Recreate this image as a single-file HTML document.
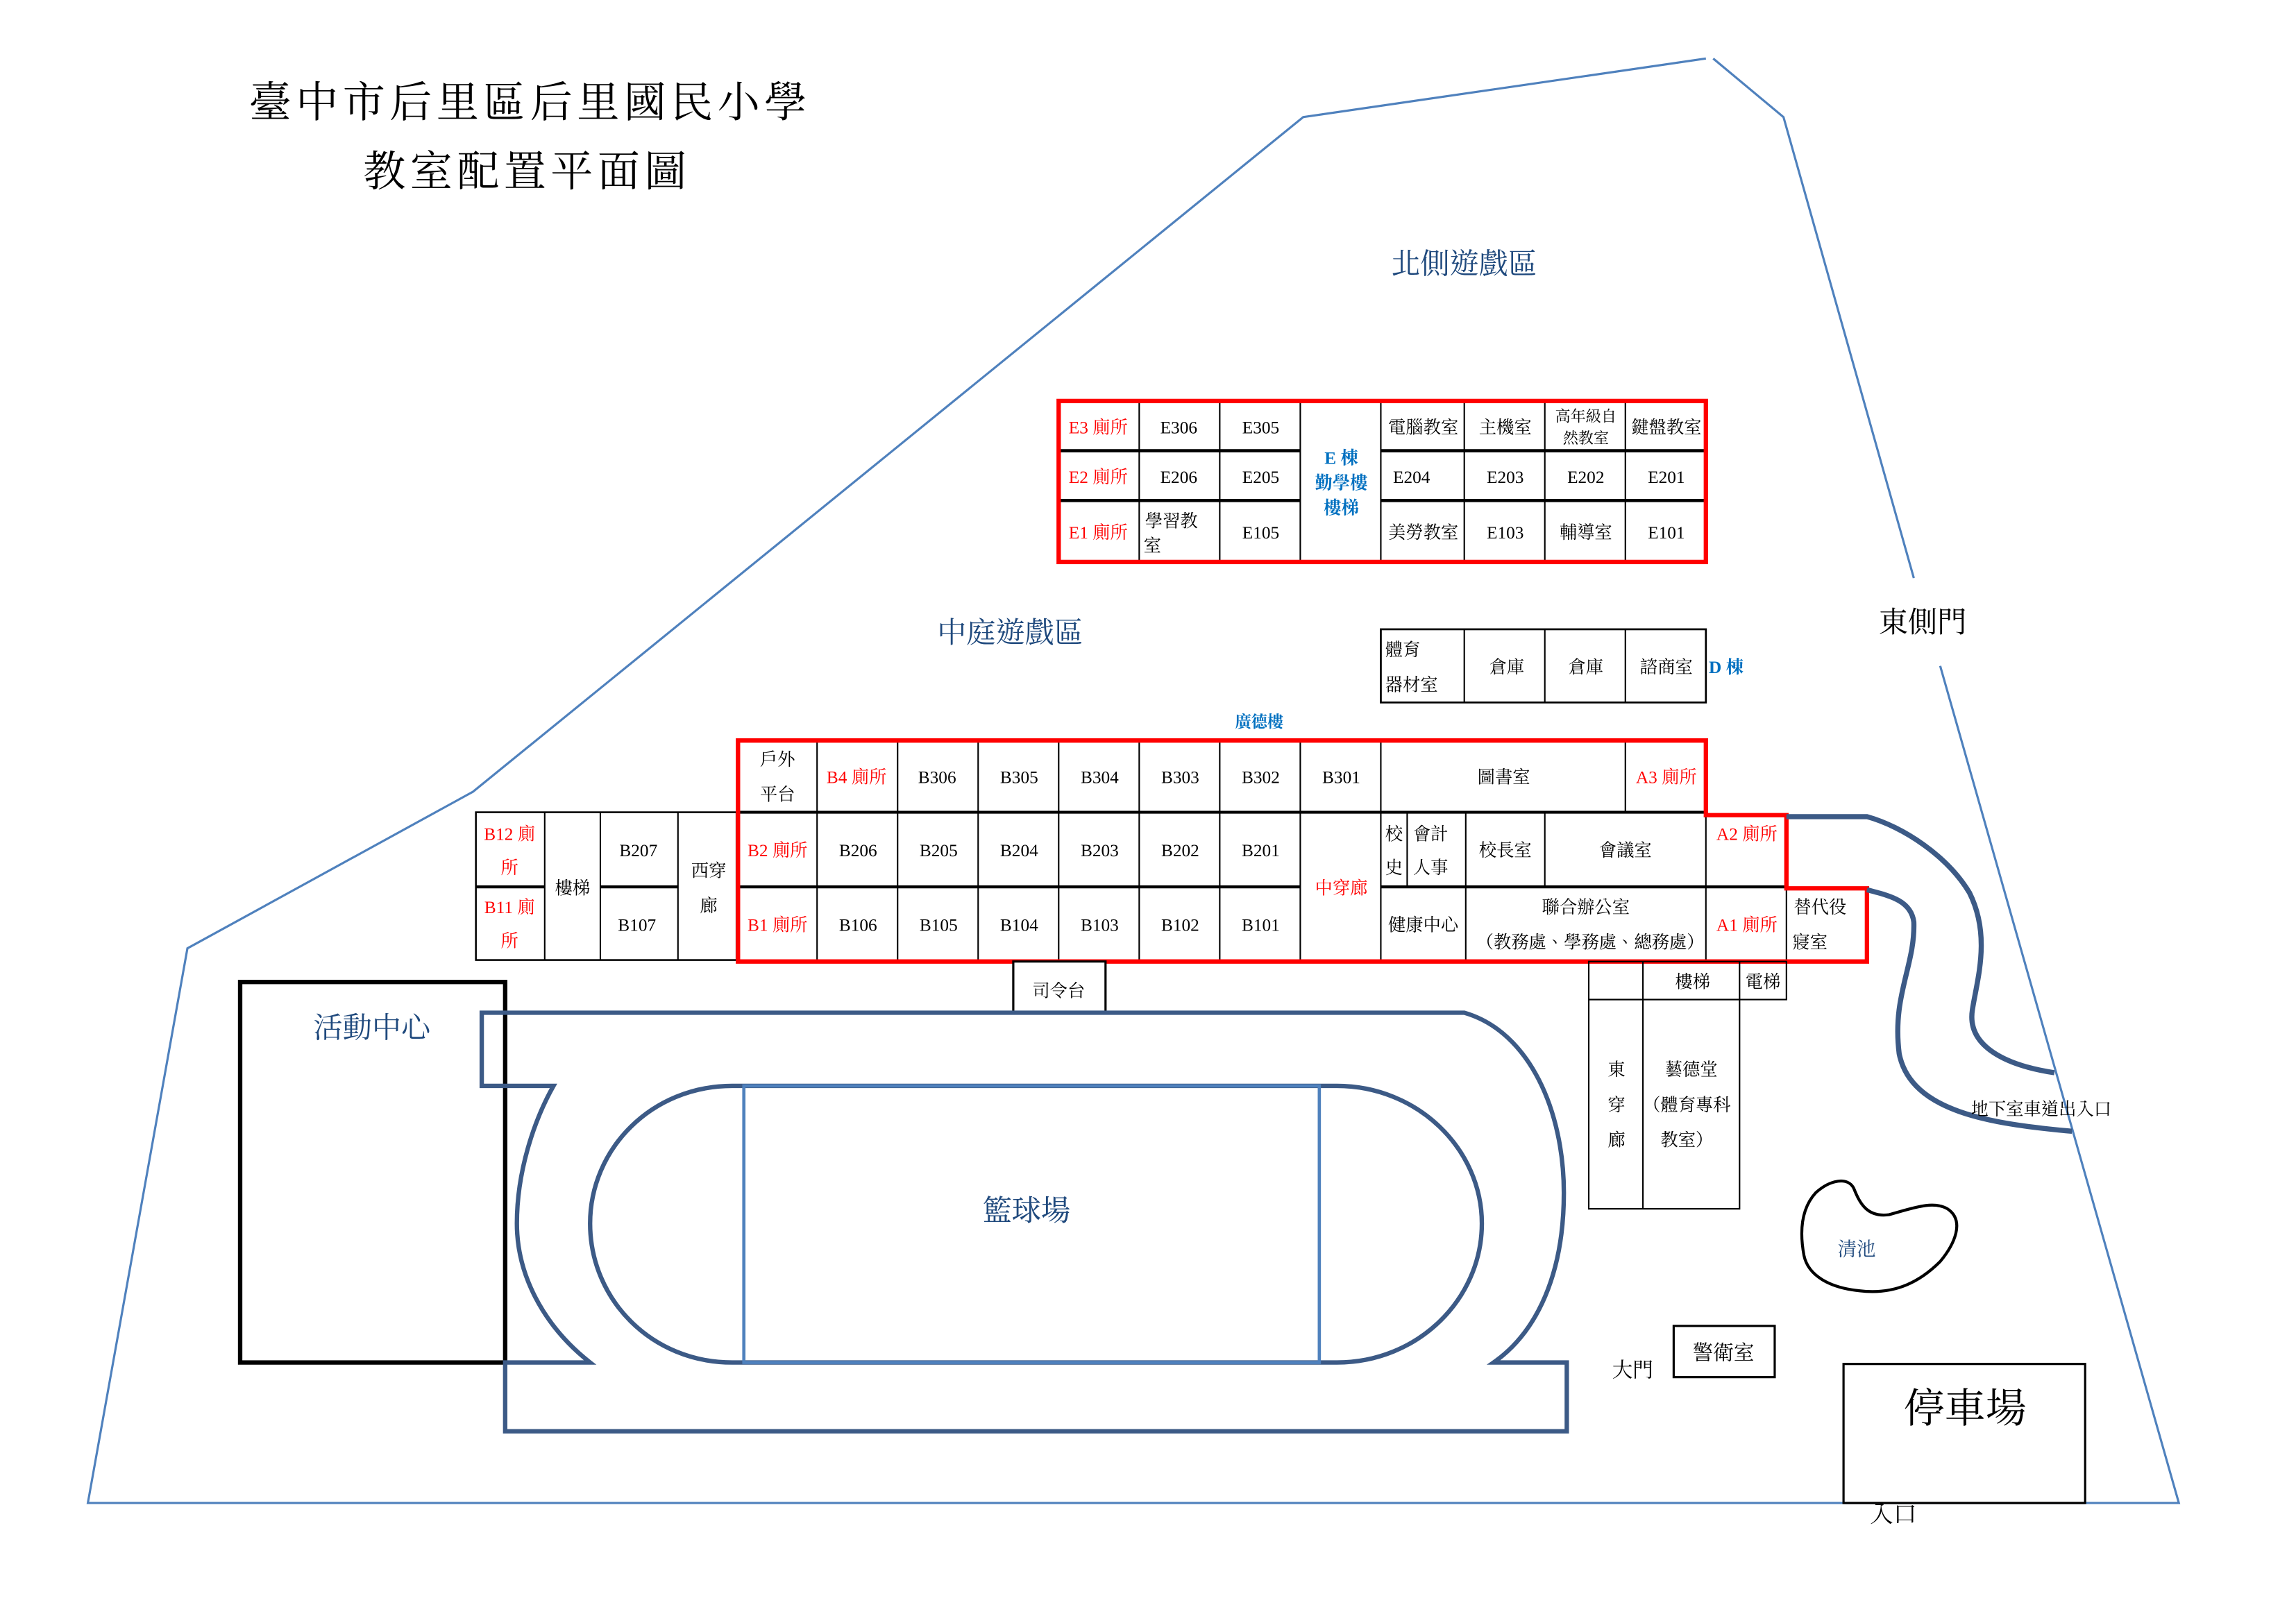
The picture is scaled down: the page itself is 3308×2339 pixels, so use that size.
<!DOCTYPE html>
<html><head><meta charset="utf-8"><style>
html,body{margin:0;padding:0;background:#fff;}
svg{display:block;}
text{font-family:"Liberation Serif","Noto Serif CJK TC","Noto Serif CJK SC",serif;}
</style></head><body>
<svg width="3308" height="2339" viewBox="0 0 1568 1109" preserveAspectRatio="none" xmlns="http://www.w3.org/2000/svg">
<rect width="1568" height="1109" fill="#fff"/>
<!-- boundary -->
<g fill="none" stroke="#4f81bd" stroke-width="1.5">
<polyline points="1165,40 890,80 323,541 128,648 60,1027 1488,1027 1325,455"/>
<polyline points="1170,40 1218,80 1307,395"/>
</g>
<!-- title -->
<g font-size="29" text-anchor="middle" fill="#000" letter-spacing="3">
<text x="362" y="80">臺中市后里區后里國民小學</text>
<text x="360" y="127">教室配置平面圖</text>
</g>
<g font-size="20" fill="#1f497d" text-anchor="middle">
<text x="1000" y="187">北側遊戲區</text>
<text x="690" y="439">中庭遊戲區</text>
<text x="701" y="834">籃球場</text>
</g>
<text x="1313" y="432" font-size="20" text-anchor="middle">東側門</text>

<!-- E block -->
<g stroke="#000" stroke-width="1" fill="none">
<line x1="778" y1="273" x2="778" y2="385"/><line x1="833" y1="273" x2="833" y2="385"/>
<line x1="888" y1="273" x2="888" y2="385"/><line x1="943" y1="273" x2="943" y2="385"/>
<line x1="1000" y1="273" x2="1000" y2="385"/><line x1="1055" y1="273" x2="1055" y2="385"/>
<line x1="1110" y1="273" x2="1110" y2="385"/>
</g>
<g stroke="#000" stroke-width="2.2">
<line x1="722" y1="308" x2="888" y2="308"/><line x1="943" y1="308" x2="1165" y2="308"/>
<line x1="722" y1="342" x2="888" y2="342"/><line x1="943" y1="342" x2="1165" y2="342"/>
</g>
<rect x="723" y="274" width="442" height="110" fill="none" stroke="#ff0000" stroke-width="3"/>
<g font-size="12" text-anchor="middle">
<g fill="#ff0000"><text x="750" y="296">E3 廁所</text><text x="750" y="330">E2 廁所</text><text x="750" y="368">E1 廁所</text></g>
<text x="805" y="296">E306</text><text x="861" y="296">E305</text>
<text x="972" y="296">電腦教室</text><text x="1028" y="296">主機室</text>
<text x="1083" y="288" font-size="10.5">高年級自</text><text x="1083" y="303" font-size="10.5">然教室</text>
<text x="1138" y="296">鍵盤教室</text>
<text x="805" y="330">E206</text><text x="861" y="330">E205</text>
<text x="964" y="330">E204</text><text x="1028" y="330">E203</text><text x="1083" y="330">E202</text><text x="1138" y="330">E201</text>
<text x="800" y="360">學習教</text><text x="787" y="377">室</text>
<text x="861" y="368">E105</text><text x="972" y="368">美勞教室</text><text x="1028" y="368">E103</text>
<text x="1083" y="368">輔導室</text><text x="1138" y="368">E101</text>
<g fill="#0070c0" font-weight="bold"><text x="916" y="317">E 棟</text><text x="916" y="334">勤學樓</text><text x="916" y="351">樓梯</text></g>
</g>

<!-- D block -->
<rect x="943" y="430" width="222" height="50" fill="none" stroke="#000" stroke-width="1.3"/>
<g stroke="#000" stroke-width="1"><line x1="1000" y1="430" x2="1000" y2="480"/><line x1="1055" y1="430" x2="1055" y2="480"/><line x1="1110" y1="430" x2="1110" y2="480"/></g>
<g font-size="12">
<text x="946" y="448">體育</text><text x="946" y="472">器材室</text>
<g text-anchor="middle"><text x="1029" y="460">倉庫</text><text x="1083" y="460">倉庫</text><text x="1138" y="460">諮商室</text></g>
<text x="1167" y="460" fill="#0070c0" font-weight="bold">D 棟</text>
<text x="860" y="497" fill="#0070c0" font-weight="bold" font-size="11" text-anchor="middle">廣德樓</text>
</g>

<!-- left extension -->
<rect x="325" y="555" width="178" height="101" fill="none" stroke="#000" stroke-width="1.2"/>
<g stroke="#000" stroke-width="1"><line x1="372" y1="555" x2="372" y2="656"/><line x1="410" y1="555" x2="410" y2="656"/><line x1="463" y1="555" x2="463" y2="656"/></g>
<g stroke="#000" stroke-width="2"><line x1="325" y1="606" x2="372" y2="606"/><line x1="410" y1="606" x2="463" y2="606"/></g>

<!-- B/A block grid -->
<g stroke="#000" stroke-width="1">
<line x1="558" y1="505" x2="558" y2="657"/><line x1="613" y1="505" x2="613" y2="657"/>
<line x1="668" y1="505" x2="668" y2="657"/><line x1="723" y1="505" x2="723" y2="657"/>
<line x1="778" y1="505" x2="778" y2="657"/><line x1="833" y1="505" x2="833" y2="657"/>
<line x1="888" y1="505" x2="888" y2="657"/><line x1="943" y1="505" x2="943" y2="657"/>
<line x1="1110" y1="505" x2="1110" y2="555"/>
<line x1="961" y1="555" x2="961" y2="606"/><line x1="1001" y1="555" x2="1001" y2="657"/>
<line x1="1055" y1="555" x2="1055" y2="606"/><line x1="1165" y1="555" x2="1165" y2="657"/>
<line x1="1220" y1="606" x2="1220" y2="657"/>
</g>
<g stroke="#000" stroke-width="2">
<line x1="503" y1="555" x2="1165" y2="555"/>
<line x1="503" y1="606" x2="888" y2="606"/><line x1="943" y1="606" x2="1220" y2="606"/>
</g>
<polygon points="504,506 1165,506 1165,557 1220,557 1220,607 1275,607 1275,657 504,657" fill="none" stroke="#ff0000" stroke-width="3"/>
<g font-size="12" text-anchor="middle">
<g fill="#ff0000">
<text x="585" y="535">B4 廁所</text><text x="1138" y="535">A3 廁所</text>
<text x="531" y="585">B2 廁所</text><text x="531" y="636">B1 廁所</text>
<text x="916" y="611">中穿廊</text>
<text x="1193" y="574">A2 廁所</text><text x="1193" y="636">A1 廁所</text>
<text x="348" y="574">B12 廁</text><text x="348" y="597">所</text>
<text x="348" y="624">B11 廁</text><text x="348" y="647">所</text>
</g>
<text x="531" y="523">戶外</text><text x="531" y="547">平台</text>
<text x="640" y="535">B306</text><text x="696" y="535">B305</text><text x="751" y="535">B304</text>
<text x="806" y="535">B303</text><text x="861" y="535">B302</text><text x="916" y="535">B301</text>
<text x="1027" y="535">圖書室</text>
<text x="586" y="585">B206</text><text x="641" y="585">B205</text><text x="696" y="585">B204</text>
<text x="751" y="585">B203</text><text x="806" y="585">B202</text><text x="861" y="585">B201</text>
<text x="586" y="636">B106</text><text x="641" y="636">B105</text><text x="696" y="636">B104</text>
<text x="751" y="636">B103</text><text x="806" y="636">B102</text><text x="861" y="636">B101</text>
<text x="952" y="574">校</text><text x="952" y="597">史</text>
<text x="977" y="574">會計</text><text x="977" y="597">人事</text>
<text x="1028" y="585">校長室</text><text x="1110" y="585">會議室</text>
<text x="972" y="636">健康中心</text>
<text x="1083" y="624">聯合辦公室</text><text x="1086" y="648">（教務處、學務處、總務處）</text>
<text x="1243" y="624">替代役</text><text x="1236" y="648">寢室</text>
<text x="391" y="611">樓梯</text><text x="436" y="585">B207</text><text x="435" y="636">B107</text>
<text x="484" y="599">西穿</text><text x="484" y="623">廊</text>
</g>

<!-- stairs / east -->
<g fill="none" stroke="#000" stroke-width="1">
<rect x="1085" y="657" width="135" height="26"/>
<line x1="1122" y1="657" x2="1122" y2="826"/><line x1="1188" y1="657" x2="1188" y2="683"/>
<rect x="1085" y="683" width="103" height="143"/>
</g>
<g font-size="12" text-anchor="middle">
<text x="1156" y="675">樓梯</text><text x="1204" y="675">電梯</text>
<text x="1104" y="735">東</text><text x="1104" y="759">穿</text><text x="1104" y="783">廊</text>
<text x="1155" y="735">藝德堂</text><text x="1152" y="759">（體育專科</text><text x="1152" y="783">教室）</text>
</g>

<!-- 司令台 -->
<rect x="692" y="657" width="63" height="35" fill="#fff" stroke="#000" stroke-width="1.5"/>
<text x="723" y="681" font-size="12" text-anchor="middle">司令台</text>

<!-- 活動中心 -->
<rect x="164" y="671" width="181" height="260" fill="none" stroke="#000" stroke-width="3"/>
<text x="254" y="709" font-size="20" fill="#1f497d" text-anchor="middle">活動中心</text>

<!-- track -->
<path d="M329,692 L1000,692 C1045,705 1068,760 1068,815 C1068,870 1050,910 1020,931 L1070,931 L1070,978 L345,978 L345,931 L403,931 C370,905 353,870 353,836 C353,800 365,765 378,742 L329,742 Z" fill="none" stroke="#3c5a86" stroke-width="3"/>
<path d="M500,742 L913,742 C968,742 1012,785 1012,836 C1012,888 968,931 913,931 L500,931 C445,931 403,888 403,836 C403,785 445,742 500,742 Z" fill="none" stroke="#3c5a86" stroke-width="3"/>
<rect x="508" y="742" width="393" height="189" fill="none" stroke="#4f81bd" stroke-width="2.2"/>
<text x="701" y="834" font-size="20" fill="#1f497d" text-anchor="middle">籃球場</text>

<!-- ramp -->
<g fill="none" stroke="#3c5a86" stroke-width="3.5">
<path d="M1220,558 L1275,558 C1300,565 1330,585 1345,610 C1360,640 1350,670 1347,690 C1343,715 1370,728 1403,733"/>
<path d="M1275,608 C1290,612 1305,615 1307,630 C1308,660 1292,680 1297,720 C1305,760 1360,768 1415,773"/>
</g>
<text x="1346" y="762" font-size="12">地下室車道出入口</text>

<!-- pond -->
<path d="M1240,815 C1250,806 1262,804 1266,812 C1270,822 1275,832 1290,830 C1305,826 1320,820 1330,826 C1342,834 1335,850 1325,862 C1312,875 1295,885 1270,882 C1250,880 1235,872 1232,858 C1229,842 1230,826 1240,815 Z" fill="none" stroke="#000" stroke-width="2"/>
<text x="1268" y="858" font-size="13" fill="#1f497d" text-anchor="middle">清池</text>

<!-- gate / guard / parking -->
<text x="1115" y="941" font-size="14" text-anchor="middle">大門</text>
<rect x="1143" y="906" width="69" height="35" fill="none" stroke="#000" stroke-width="1.5"/>
<text x="1177" y="929" font-size="14" text-anchor="middle">警衛室</text>
<text x="1293" y="1040" font-size="16" text-anchor="middle">入口</text>
<rect x="1259" y="932" width="165" height="95" fill="#fff" stroke="#000" stroke-width="1.5"/>
<line x1="1259" y1="1027" x2="1424" y2="1027" stroke="#000" stroke-width="1.5"/>
<text x="1342" y="972" font-size="28" text-anchor="middle">停車場</text>
</svg>
</body></html>
